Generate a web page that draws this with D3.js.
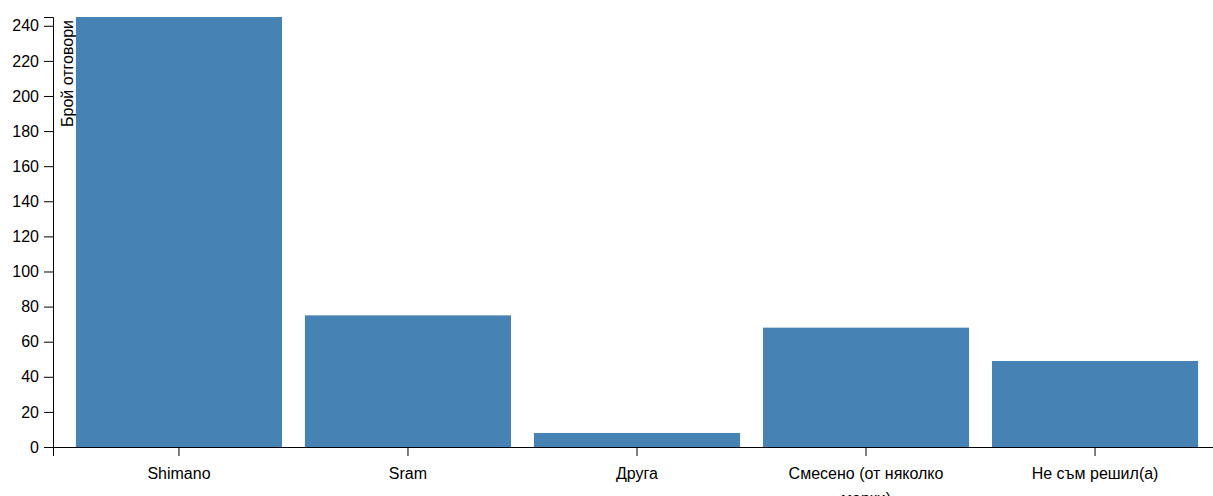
<!DOCTYPE html>
<html>
<head>
<meta charset="utf-8">
<script src="https://d3js.org/d3.v7.min.js"></script>
<style>
  html, body { margin: 0; padding: 0; background: #fff; overflow: hidden; }
  svg { display: block; }
  .axis text { font-family: "Liberation Sans", Arial, sans-serif; font-size: 16px; fill: #000; }
  .axis path, .axis line { stroke: #000; }
</style>
</head>
<body>
<svg id="chart" width="1213" height="496"></svg>
<script>
const categories = ["Shimano", "Sram", "Друга", "Смесено (от няколко марки)", "Не съм решил(а)"];
const values = [245, 75, 8, 68, 49];
const yTicks = [0, 20, 40, 60, 80, 100, 120, 140, 160, 180, 200, 220, 240];
const yLabel = "Брой отговори";

const svg = d3.select("#chart");
const margin = { left: 53, top: 17, bottom: 49 };
const H = 496;
const plotBottom = H - margin.bottom;

const x = d3.scaleBand().domain(categories).range([margin.left, 1221]).padding(0.1);
const y = d3.scaleLinear().domain([0, d3.max(values)]).range([plotBottom, margin.top]);

// bars
svg.append("g").selectAll("rect").data(categories).join("rect")
  .attr("x", d => x(d))
  .attr("y", (d, i) => y(values[i]))
  .attr("width", x.bandwidth())
  .attr("height", (d, i) => y(0) - y(values[i]))
  .attr("fill", "steelblue");

// x axis
const xAxis = svg.append("g").attr("class", "axis")
  .attr("transform", `translate(0,${plotBottom})`)
  .call(d3.axisBottom(x).tickSize(9).tickPadding(11.5));

function wrap(text, width) {
  text.each(function() {
    const t = d3.select(this);
    const words = t.text().split(/\s+/).reverse();
    let word, line = [], lineNumber = 0;
    const lineHeight = 1.6;
    const yy = t.attr("y");
    const dy = parseFloat(t.attr("dy"));
    let tspan = t.text(null).append("tspan").attr("x", 0).attr("y", yy).attr("dy", dy + "em");
    while ((word = words.pop())) {
      line.push(word);
      tspan.text(line.join(" "));
      if (tspan.node().getComputedTextLength() > width && line.length > 1) {
        line.pop();
        tspan.text(line.join(" "));
        line = [word];
        tspan = t.append("tspan").attr("x", 0).attr("y", yy)
          .attr("dy", ++lineNumber * lineHeight + dy + "em").text(word);
      }
    }
  });
}
xAxis.selectAll(".tick text").call(wrap, 170);

// y axis
const yAxis = svg.append("g").attr("class", "axis")
  .attr("transform", `translate(${margin.left},0)`)
  .call(d3.axisLeft(y).tickValues(yTicks).tickSize(9).tickPadding(5));

yAxis.append("text")
  .attr("transform", "rotate(-90)")
  .attr("x", -(margin.top + 3))
  .attr("y", 19.5)
  .attr("text-anchor", "end")
  .attr("fill", "#000")
  .text(yLabel);
</script>
</body>
</html>
